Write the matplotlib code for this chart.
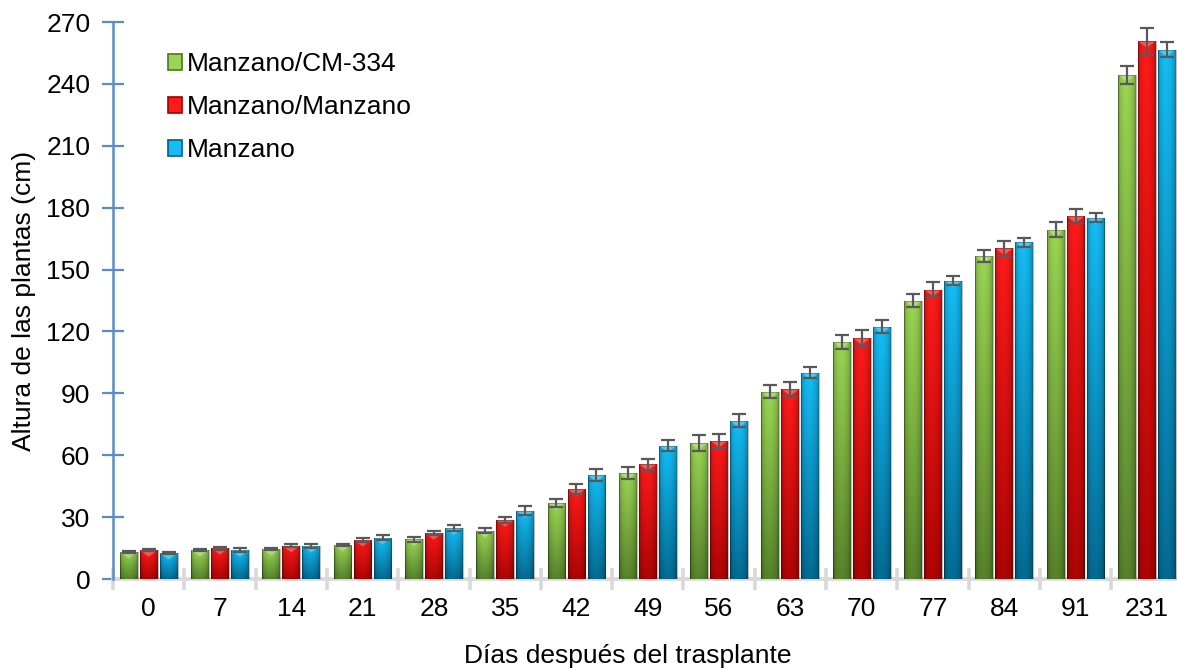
import numpy as np
import matplotlib
matplotlib.use("Agg")
import matplotlib.pyplot as plt
from matplotlib.patches import Polygon, Rectangle
from matplotlib.colors import to_rgb
from matplotlib.legend_handler import HandlerPatch

# ---- data -------------------------------------------------------------
dias = ["0", "7", "14", "21", "28", "35", "42", "49", "56", "63", "70", "77", "84", "91", "231"]
series_names = ["Manzano/CM-334", "Manzano/Manzano", "Manzano"]

cm334 = [13.1, 14.0, 14.5, 16.5, 19.2, 23.3, 36.8, 51.4, 65.8, 90.8, 115.0, 134.9, 156.5, 169.4, 244.3]
manzano_manzano = [14.0, 15.0, 16.1, 19.0, 22.3, 28.6, 43.6, 55.7, 67.0, 92.0, 116.8, 140.3, 160.3, 175.9, 260.7]
manzano = [12.6, 14.0, 16.0, 20.0, 24.7, 33.0, 50.4, 64.6, 76.7, 100.0, 122.3, 144.6, 163.3, 175.2, 256.6]

err_cm334 = [0.5, 0.6, 0.6, 0.7, 1.2, 1.2, 1.9, 3.0, 3.8, 3.2, 3.4, 3.1, 3.0, 3.6, 4.4]
err_manzano_manzano = [0.6, 0.7, 0.7, 0.9, 0.9, 1.5, 2.4, 2.7, 3.3, 3.5, 3.8, 3.6, 3.5, 3.5, 6.5]
err_manzano = [0.7, 0.8, 1.0, 1.3, 1.5, 2.2, 2.7, 2.7, 3.1, 2.7, 3.2, 2.3, 2.2, 2.2, 3.5]

y_ticks = [0, 30, 60, 90, 120, 150, 180, 210, 240, 270]

# ---- style ------------------------------------------------------------
plt.rcParams["font.family"] = ["Liberation Sans", "DejaVu Sans"]
FS = 19

palette = [
    ("#9ad653", "#4c7424"),   # green
    ("#ff1a1a", "#a00000"),   # red
    ("#14bdf5", "#005c82"),   # blue
]

fig = plt.figure(figsize=(11.77, 6.68), dpi=100)
ax = fig.add_axes([0.096, 0.1332, 0.9087, 0.8338])

x = np.arange(len(dias))
offset = 0.28
width = 0.25
values = [cm334, manzano_manzano, manzano]
errors = [err_cm334, err_manzano_manzano, err_manzano]


def shaded(top_hex, bottom_hex, nx=40, ny=120):
    """Colour field for a bevelled bar: light at the top, darker at the
    bottom and along both vertical edges."""
    top = np.array(to_rgb(top_hex))
    bot = np.array(to_rgb(bottom_hex))
    t = np.linspace(0, 1, ny)[:, None, None]           # 0 = top row
    col = top * (1 - t * 0.85) + bot * (t * 0.85)
    u = np.linspace(0, 1, nx)[None, :, None]
    edge = 0.62 + 0.38 * np.clip(np.sin(np.pi * (u ** 0.9)), 0, 1) ** 0.45
    return np.clip(col * edge, 0, 1)


ax.set_xlim(-0.5, len(dias) - 0.5)
ax.set_ylim(0, 270)

tri_h = 270 / 557 * 6.5   # height of the top bevel in data units
for k, (vals, errs, (c_top, c_bot)) in enumerate(zip(values, errors, palette)):
    bars = ax.bar(x + (k - 1) * offset, vals, width, color=c_top,
                  edgecolor="none", zorder=2, label=series_names[k])
    field = shaded(c_top, c_bot)
    for b in bars:
        x0, w, h = b.get_x(), b.get_width(), b.get_height()
        im = ax.imshow(field, extent=(x0, x0 + w, 0, h), aspect="auto",
                       origin="upper", zorder=3, interpolation="bilinear")
        im.set_clip_path(b)
        # bevel triangle at the top of the bar
        ax.add_patch(Polygon([(x0, h), (x0 + w, h), (x0 + w / 2, h - tri_h)],
                             closed=True, facecolor="white", alpha=0.28,
                             edgecolor="none", zorder=4))
        ax.add_patch(Rectangle((x0, 0), w, h, facecolor="none",
                               edgecolor=(0, 0, 0, 0.25), lw=0.8, zorder=4))
    ax.errorbar(x + (k - 1) * offset, vals, yerr=errs, fmt="none",
                ecolor="#595959", elinewidth=1.6, capsize=4.7, capthick=1.6,
                zorder=5)

ax.set_xlim(-0.5, len(dias) - 0.5)
ax.set_ylim(0, 270)

# axes lines
for s in ("top", "right"):
    ax.spines[s].set_visible(False)
ax.spines["left"].set_color("#5b8cc8")
ax.spines["left"].set_linewidth(1.8)
ax.spines["bottom"].set_color("#d9d9d9")
ax.spines["bottom"].set_linewidth(2.6)
ax.spines["left"].set_zorder(6)

ax.set_yticks(y_ticks)
ax.set_yticklabels([str(v) for v in y_ticks], fontsize=FS)
ax.tick_params(axis="y", direction="inout", length=16, width=1.6,
               color="#5b8cc8", pad=8.3)

ax.set_xticks(x)
ax.set_xticklabels(dias, fontsize=FS)
ax.set_xticks(np.arange(-0.5, len(dias), 1.0), minor=True)
ax.tick_params(axis="x", which="major", length=0, pad=13)
ax.tick_params(axis="x", which="minor", direction="inout", length=16,
               width=2.6, color="#d9d9d9")

ax.set_ylabel("Altura de las plantas (cm)", fontsize=FS)
ax.yaxis.set_label_coords(-0.072, 0.5)
ax.set_xlabel("Días después del trasplante", fontsize=FS)
ax.xaxis.set_label_coords(0.481, -0.117)


class GradientSquare(HandlerPatch):
    def __init__(self, colors):
        super().__init__()
        self.colors = colors

    def create_artists(self, legend, orig_handle, xdescent, ydescent,
                       width, height, fontsize, trans):
        c_top, c_bot = self.colors[orig_handle.get_label()]
        p = Rectangle((-xdescent, -ydescent), width, height,
                      facecolor=c_top, edgecolor=c_bot, lw=1.2,
                      transform=trans)
        return [p]


handles, labels = ax.get_legend_handles_labels()
cmap = {name: pal for name, pal in zip(series_names, palette)}
leg = ax.legend(handles, labels, loc="upper left",
                bbox_to_anchor=(0.051, 0.946, 0, 0),
                frameon=False, fontsize=FS, labelspacing=0.72,
                handlelength=0.55, handleheight=0.55, handletextpad=0.2,
                borderaxespad=0, borderpad=0,
                handler_map={h: GradientSquare(cmap) for h in handles})

fig.savefig("out.png", dpi=100)
